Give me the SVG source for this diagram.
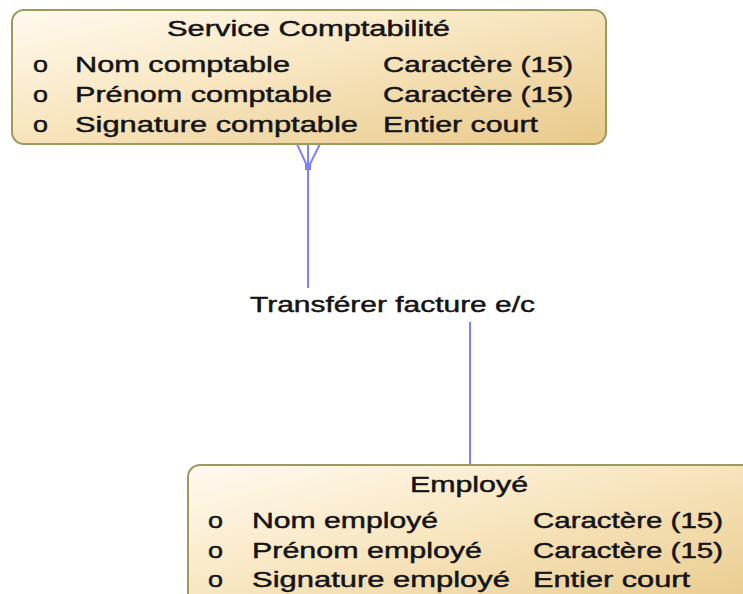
<svg xmlns="http://www.w3.org/2000/svg" width="743" height="594" viewBox="0 0 743 594">
  <defs>
    <linearGradient id="entityFill" x1="0" y1="0" x2="1" y2="1">
      <stop offset="0" stop-color="#fffaf0"/>
      <stop offset="0.45" stop-color="#f8e6c0"/>
      <stop offset="1" stop-color="#e8c98a"/>
    </linearGradient>
    <style>
      .entity { fill: url(#entityFill); stroke: #9b9b5e; stroke-width: 2; }
      .txt { font-family: "Liberation Sans", Arial, sans-serif; font-size: 22px; fill: #141414; stroke: #141414; stroke-width: 0.45px; }
      .link { stroke: #8080ff; stroke-width: 2; fill: none; }
    </style>
  </defs>

  <rect width="743" height="594" fill="#ffffff"/>

  <!-- relationship connectors -->
  <g id="connectors">
    <line class="link" x1="308" y1="144" x2="308" y2="288"/>
    <polyline class="link" points="297,144 308,168 320,144"/>
    <rect x="305" y="164" width="6" height="6" fill="#8080ff"/>
    <line class="link" x1="470" y1="322" x2="470" y2="466"/>
  </g>

  <!-- relationship label -->
  <g id="rel-transferer">
    <text class="txt" x="250" y="312" textLength="285" lengthAdjust="spacingAndGlyphs">Transférer facture e/c</text>
  </g>

  <!-- entity: Service Comptabilité -->
  <g id="service-comptabilite">
    <rect class="entity" x="12" y="10" width="594" height="134" rx="12" ry="12"/>
    <text class="txt" x="167" y="36" textLength="283" lengthAdjust="spacingAndGlyphs">Service Comptabilité</text>
    <text class="txt" x="33" y="72" textLength="15" lengthAdjust="spacingAndGlyphs">o</text>
    <text class="txt" x="75" y="72" textLength="215" lengthAdjust="spacingAndGlyphs">Nom comptable</text>
    <text class="txt" x="383" y="72" textLength="190" lengthAdjust="spacingAndGlyphs">Caractère (15)</text>
    <text class="txt" x="33" y="102" textLength="15" lengthAdjust="spacingAndGlyphs">o</text>
    <text class="txt" x="75" y="102" textLength="257" lengthAdjust="spacingAndGlyphs">Prénom comptable</text>
    <text class="txt" x="383" y="102" textLength="190" lengthAdjust="spacingAndGlyphs">Caractère (15)</text>
    <text class="txt" x="33" y="132" textLength="15" lengthAdjust="spacingAndGlyphs">o</text>
    <text class="txt" x="75" y="132" textLength="283" lengthAdjust="spacingAndGlyphs">Signature comptable</text>
    <text class="txt" x="383" y="132" textLength="155" lengthAdjust="spacingAndGlyphs">Entier court</text>
  </g>

  <!-- entity: Employé -->
  <g id="employe">
    <rect class="entity" x="188" y="465" width="566" height="150" rx="12" ry="12"/>
    <text class="txt" x="410" y="492" textLength="118" lengthAdjust="spacingAndGlyphs">Employé</text>
    <text class="txt" x="208" y="528" textLength="15" lengthAdjust="spacingAndGlyphs">o</text>
    <text class="txt" x="252" y="528" textLength="186" lengthAdjust="spacingAndGlyphs">Nom employé</text>
    <text class="txt" x="533" y="528" textLength="190" lengthAdjust="spacingAndGlyphs">Caractère (15)</text>
    <text class="txt" x="208" y="558" textLength="15" lengthAdjust="spacingAndGlyphs">o</text>
    <text class="txt" x="252" y="558" textLength="230" lengthAdjust="spacingAndGlyphs">Prénom employé</text>
    <text class="txt" x="533" y="558" textLength="190" lengthAdjust="spacingAndGlyphs">Caractère (15)</text>
    <text class="txt" x="208" y="587" textLength="15" lengthAdjust="spacingAndGlyphs">o</text>
    <text class="txt" x="252" y="587" textLength="258" lengthAdjust="spacingAndGlyphs">Signature employé</text>
    <text class="txt" x="533" y="587" textLength="157" lengthAdjust="spacingAndGlyphs">Entier court</text>
  </g>
</svg>
